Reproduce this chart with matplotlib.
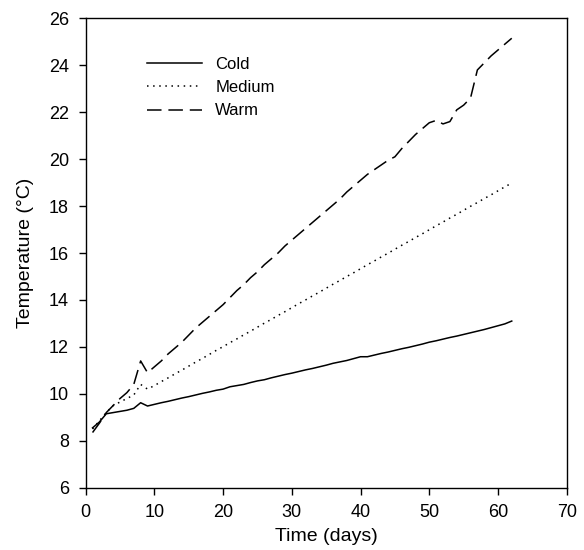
#!/usr/bin/env python3
"""Temperature over time for the cold, medium and warm treatments."""

import matplotlib
matplotlib.use("Agg")
import matplotlib.pyplot as plt

DAYS = list(range(1, 63))

COLD = [
    8.55, 8.80, 9.15, 9.20, 9.25, 9.30, 9.38, 9.62, 9.48, 9.55,
    9.62, 9.68, 9.75, 9.82, 9.88, 9.95, 10.02, 10.08, 10.15, 10.20,
    10.30, 10.35, 10.40, 10.48, 10.55, 10.60, 10.68, 10.75, 10.82, 10.88,
    10.95, 11.02, 11.08, 11.15, 11.22, 11.30, 11.36, 11.42, 11.50, 11.58,
    11.58, 11.65, 11.72, 11.78, 11.85, 11.92, 11.98, 12.05, 12.12, 12.20,
    12.26, 12.33, 12.40, 12.46, 12.53, 12.60, 12.67, 12.74, 12.82, 12.90,
    12.98, 13.10,
]

MEDIUM = [
    8.50, 8.85, 9.20, 9.50, 9.65, 9.80, 9.95, 10.40, 10.20, 10.35,
    10.52, 10.68, 10.85, 11.01, 11.18, 11.35, 11.51, 11.68, 11.85, 12.01,
    12.18, 12.34, 12.51, 12.67, 12.84, 13.01, 13.17, 13.34, 13.50, 13.67,
    13.84, 14.00, 14.17, 14.33, 14.50, 14.67, 14.83, 15.00, 15.16, 15.33,
    15.50, 15.66, 15.83, 15.99, 16.16, 16.33, 16.49, 16.66, 16.82, 16.99,
    17.16, 17.32, 17.49, 17.65, 17.82, 17.99, 18.15, 18.32, 18.48, 18.65,
    18.82, 18.98,
]

WARM = [
    8.35, 8.75, 9.20, 9.50, 9.80, 10.05, 10.40, 11.40, 10.90, 11.15,
    11.40, 11.70, 11.95, 12.20, 12.50, 12.80, 13.05, 13.30, 13.55, 13.80,
    14.10, 14.40, 14.65, 14.95, 15.20, 15.50, 15.75, 16.00, 16.30, 16.55,
    16.80, 17.05, 17.30, 17.55, 17.80, 18.05, 18.30, 18.60, 18.85, 19.10,
    19.35, 19.55, 19.75, 19.95, 20.10, 20.45, 20.75, 21.05, 21.30, 21.55,
    21.65, 21.50, 21.60, 22.10, 22.30, 22.60, 23.80, 24.10, 24.40, 24.65,
    24.90, 25.15,
]

X_TICKS = [0, 10, 20, 30, 40, 50, 60, 70]
Y_TICKS = [6, 8, 10, 12, 14, 16, 18, 20, 22, 24, 26]

plt.rcParams.update(
    {
        "font.family": ["Liberation Sans", "DejaVu Sans"],
        "font.size": 12,
    }
)

fig = plt.figure(figsize=(5.84, 5.5), dpi=100)
ax = fig.add_axes([0.1467, 0.1133, 0.8237, 0.8534])

ax.plot(DAYS, COLD, color="black", linewidth=1.1, linestyle="-", label="Cold")
ax.plot(DAYS, MEDIUM, color="black", linewidth=1.1, linestyle=(0, (1, 3)),
        label="Medium")
ax.plot(DAYS, WARM, color="black", linewidth=1.1, linestyle=(0, (9.5, 4.5)),
        label="Warm")

ax.set_xlim(0, 70)
ax.set_ylim(6, 26)
ax.set_xticks(X_TICKS)
ax.set_yticks(Y_TICKS)
ax.tick_params(direction="out", length=5, width=1.0, pad=7, labelsize=13,
               top=False, right=False)

for spine in ax.spines.values():
    spine.set_linewidth(1.0)

ax.set_xlabel("Time (days)", fontsize=14, labelpad=5)
ax.set_ylabel("Temperature (\u00b0C)", fontsize=14, labelpad=11)

ax.legend(
    loc="upper left",
    bbox_to_anchor=(0.11, 0.936),
    frameon=False,
    fontsize=12,
    handlelength=3.3,
    handletextpad=0.8,
    labelspacing=0.5,
    borderpad=0,
)

fig.savefig("out.png", dpi=100)
